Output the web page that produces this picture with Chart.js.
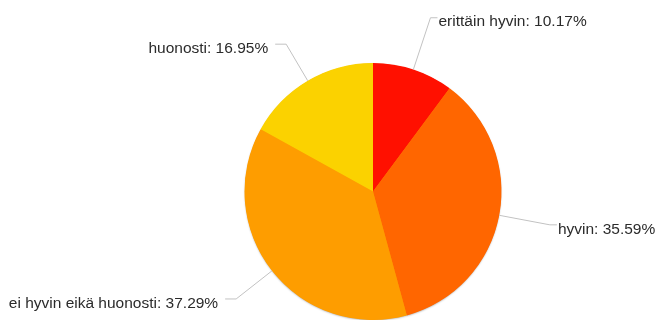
<!DOCTYPE html>
<html lang="fi">
<head>
  <meta charset="UTF-8">
  <title>Vastausjakauma</title>
  <script src="https://cdn.jsdelivr.net/npm/chart.js"></script>
  <style>
    html, body { margin: 0; padding: 0; background: #fff; }
    #wrap { width: 658px; height: 320px; position: relative; }
  </style>
</head>
<body>
  <div id="wrap"><canvas id="pie"></canvas></div>

  <script>
    // answers, clockwise from 12 o'clock
    const categories = ['erittäin hyvin', 'hyvin', 'ei hyvin eikä huonosti', 'huonosti'];
    const shares = [10.17, 35.59, 37.29, 16.95];
    const sliceColors = ['#ff1000', '#ff6600', '#fe9d00', '#fbd200'];

    // how far out the leader line bends, per label
    const leaderRadius = [183, 180, 174, 171];

    // soft shadow under the whole disc, painted before the slices
    const discShadow = {
      id: 'discShadow',
      beforeDatasetsDraw(chart) {
        const arc = chart.getDatasetMeta(0).data[0];
        const ctx = chart.ctx;
        ctx.save();
        ctx.shadowColor = 'rgba(0, 0, 0, 0.35)';
        ctx.shadowBlur = 2;
        ctx.shadowOffsetY = 1;
        ctx.fillStyle = '#f80';
        ctx.beginPath();
        ctx.arc(arc.x, arc.y, arc.outerRadius - 0.5, 0, Math.PI * 2);
        ctx.fill();
        ctx.restore();
      }
    };

    // outside labels with bent leader lines
    const sideLabels = {
      id: 'sideLabels',
      afterDatasetsDraw(chart) {
        const ctx = chart.ctx;
        const arcs = chart.getDatasetMeta(0).data;
        ctx.save();
        ctx.font = '15.5px "Liberation Sans", Arial, sans-serif';
        ctx.textBaseline = 'alphabetic';
        arcs.forEach((arc, i) => {
          const mid = (arc.startAngle + arc.endAngle) / 2;
          const cos = Math.cos(mid), sin = Math.sin(mid);
          const ax = arc.x + cos * arc.outerRadius;
          const ay = arc.y + sin * arc.outerRadius;
          const bx = arc.x + cos * leaderRadius[i];
          const by = arc.y + sin * leaderRadius[i];
          const right = cos >= 0;
          const ex = bx + (right ? 7 : -11);

          ctx.strokeStyle = '#c2c2c2';
          ctx.lineWidth = 1;
          ctx.beginPath();
          ctx.moveTo(ax, ay);
          ctx.lineTo(bx, by);
          ctx.lineTo(ex, by);
          ctx.stroke();

          ctx.fillStyle = '#2b2b2b';
          ctx.textAlign = right ? 'left' : 'right';
          const text = categories[i] + ': ' + shares[i].toFixed(2) + '%';
          ctx.fillText(text, ex + (right ? 1 : -7), by + 8.7);
        });
        ctx.restore();
      }
    };

    new Chart(document.getElementById('pie'), {
      type: 'pie',
      data: {
        labels: categories,
        datasets: [{
          data: shares,
          backgroundColor: sliceColors,
          borderWidth: 0,
          hoverOffset: 0,
          radius: 128.5
        }]
      },
      options: {
        responsive: true,
        maintainAspectRatio: false,
        animation: false,
        events: [],
        layout: { padding: { top: 63, bottom: 0, left: 88, right: 0 } },
        plugins: {
          legend: { display: false },
          tooltip: { enabled: false }
        }
      },
      plugins: [discShadow, sideLabels]
    });
  </script>
</body>
</html>
